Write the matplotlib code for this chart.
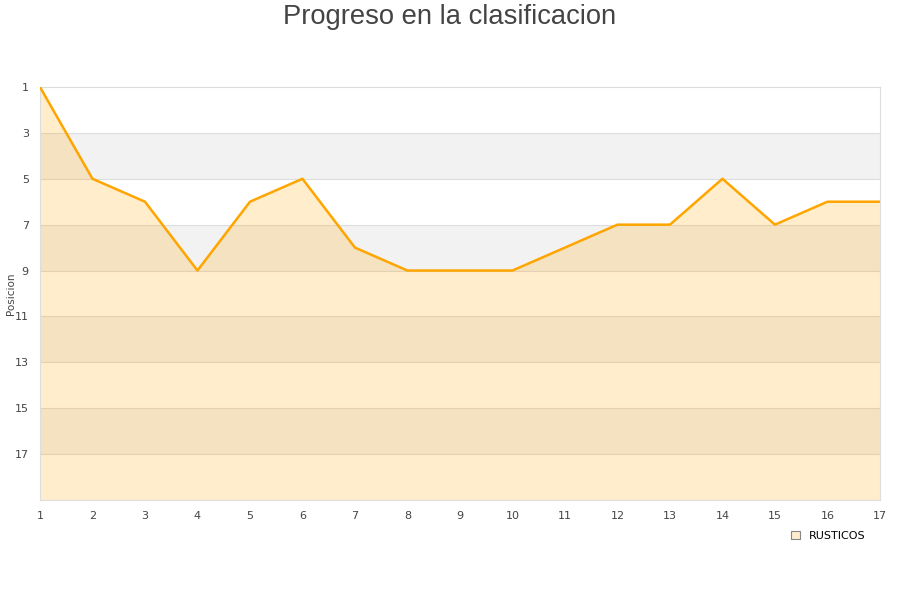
import matplotlib
matplotlib.use('Agg')
import matplotlib.pyplot as plt
from matplotlib.patches import Patch

jornadas = list(range(1, 18))
posicion = [1, 5, 6, 9, 6, 5, 8, 9, 9, 9, 8, 7, 7, 5, 7, 6, 6]
equipo = 'RUSTICOS'
yticks = [1, 3, 5, 7, 9, 11, 13, 15, 17]

fig = plt.figure(figsize=(9, 6), dpi=100)
ax = fig.add_axes([0.0444, 0.1667, 0.9333, 0.6883])

# bandas alternas
for y0 in range(3, 19, 4):
    ax.axhspan(y0, y0 + 2, color='#f2f2f2', lw=0, zorder=0)
for y in yticks[1:]:
    ax.axhline(y, color='#dddddd', lw=0.8, zorder=1)

ax.fill_between(jornadas, posicion, 19, color='#ffa500', alpha=0.2, lw=0, zorder=2)
ax.plot(jornadas, posicion, color='#ffa500', lw=1.8, zorder=3)

ax.set_xlim(1, 17)
ax.set_ylim(19, 1)
ax.set_xticks(jornadas)
ax.set_yticks(yticks)
ax.tick_params(length=0, labelsize=8, colors='#444444', pad=8)
for s in ax.spines.values():
    s.set_color('#dddddd')
fig.text(0.012, 0.51, 'Posicion', fontsize=7.5, color='#444444',
         rotation=90, ha='center', va='center')

fig.text(0.5, 0.972, 'Progreso en la clasificacion', fontsize=19.7, color='#444444',
         ha='center', va='center', family='Liberation Sans')

h = Patch(facecolor='#ffedcc', edgecolor='#888888', lw=0.8)
ax.legend([h], [equipo], loc='upper right', bbox_to_anchor=(0.995, -0.05),
          frameon=False, fontsize=8, handlelength=0.8, handleheight=0.8)

fig.savefig('out.png', dpi=100)
